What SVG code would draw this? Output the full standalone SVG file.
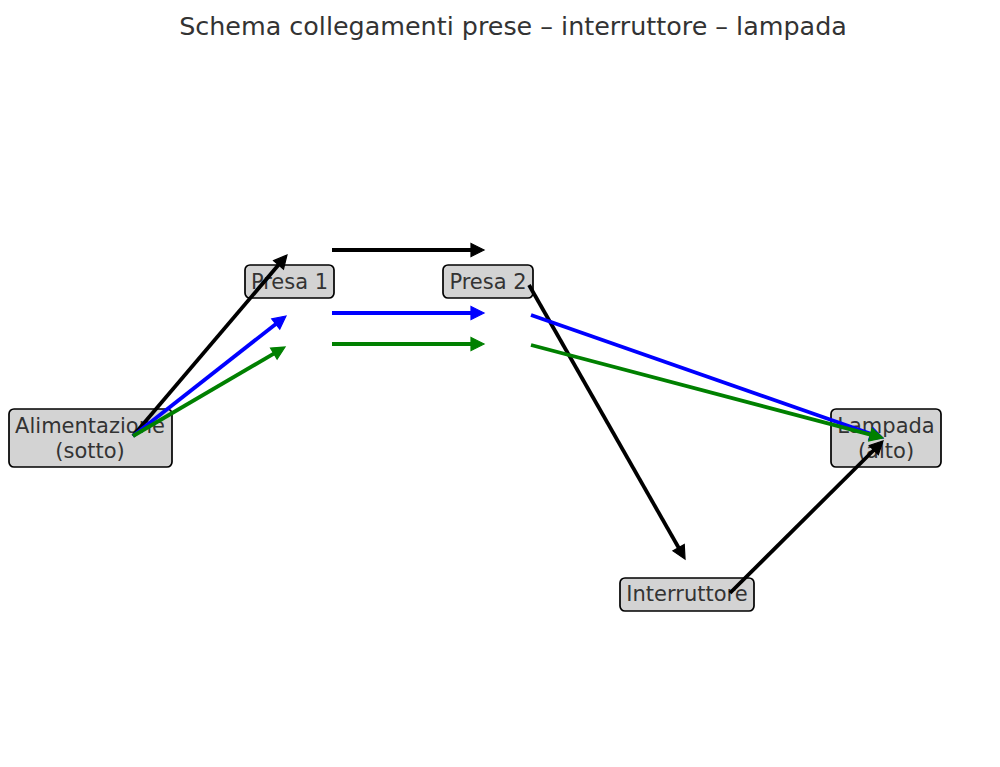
<svg xmlns="http://www.w3.org/2000/svg" width="1000" height="767" viewBox="0 0 1000 767">
<style>
.box{fill:#d3d3d3;stroke:#000;stroke-width:1.7}
.lbl{font-family:"DejaVu Sans",sans-serif;font-size:21px;fill:#333;text-anchor:middle}
.title{font-family:"DejaVu Sans",sans-serif;font-size:25.4px;fill:#333;text-anchor:middle}
.c{fill:none;stroke-width:3.8;stroke-linecap:butt}
.k{stroke:#000}.b{stroke:#0000ff}.g{stroke:#008000}
</style>
<defs>
<marker id="ak" markerUnits="userSpaceOnUse" viewBox="-2 -9 20 18" markerWidth="20" markerHeight="18" refX="3" refY="0" orient="auto"><path d="M0,-6.5 L13,0 L0,6.5 z" fill="#000" stroke="#000" stroke-width="1.2"/></marker>
<marker id="ab" markerUnits="userSpaceOnUse" viewBox="-2 -9 20 18" markerWidth="20" markerHeight="18" refX="3" refY="0" orient="auto"><path d="M0,-6.5 L13,0 L0,6.5 z" fill="#0000ff" stroke="#0000ff" stroke-width="1.2"/></marker>
<marker id="ag" markerUnits="userSpaceOnUse" viewBox="-2 -9 20 18" markerWidth="20" markerHeight="18" refX="3" refY="0" orient="auto"><path d="M0,-6.5 L13,0 L0,6.5 z" fill="#008000" stroke="#008000" stroke-width="1.2"/></marker>
</defs>
<rect width="1000" height="767" fill="#fff"/>
<text class="title" x="513" y="35">Schema collegamenti prese – interruttore – lampada</text>
<g id="alimentazione"><rect class="box" x="9" y="409" width="163" height="58" rx="5"/><text class="lbl" x="90" y="433">Alimentazione</text><text class="lbl" x="90" y="458">(sotto)</text></g>
<g id="presa1"><rect class="box" x="245" y="265" width="89" height="33" rx="5"/><text class="lbl" x="289.5" y="289">Presa 1</text></g>
<g id="presa2"><rect class="box" x="443" y="265" width="90" height="33" rx="5"/><text class="lbl" x="488" y="289">Presa 2</text></g>
<g id="lampada"><rect class="box" x="831" y="409" width="110" height="58" rx="5"/><text class="lbl" x="886" y="433">Lampada</text><text class="lbl" x="886" y="458">(alto)</text></g>
<g id="interruttore"><rect class="box" x="620" y="578" width="134" height="33" rx="5"/><text class="lbl" x="687" y="601">Interruttore</text></g>
<g id="connectors">
<line class="c k" x1="133" y1="436" x2="280.5" y2="262.6" marker-end="url(#ak)"/>
<line class="c b" x1="133" y1="436" x2="278.1" y2="322.2" marker-end="url(#ab)"/>
<line class="c g" x1="133" y1="436" x2="276.4" y2="352.1" marker-end="url(#ag)"/>
<line class="c k" x1="332" y1="250" x2="474" y2="250" marker-end="url(#ak)"/>
<line class="c b" x1="332" y1="313" x2="474" y2="313" marker-end="url(#ab)"/>
<line class="c g" x1="332" y1="344" x2="474" y2="344" marker-end="url(#ag)"/>
<line class="c k" x1="529" y1="285" x2="680.1" y2="550.3" marker-end="url(#ak)"/>
<line class="c b" x1="531" y1="315" x2="873.6" y2="434.7" marker-end="url(#ab)"/>
<line class="c g" x1="531" y1="345" x2="873.3" y2="435.4" marker-end="url(#ag)"/>
<line class="c k" x1="730" y1="593" x2="875.9" y2="448" marker-end="url(#ak)"/>
</g>
</svg>
